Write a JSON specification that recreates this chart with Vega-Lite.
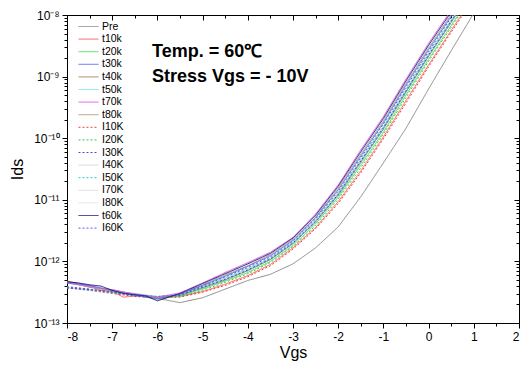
{
"$schema":"https://vega.github.io/schema/vega-lite/v6.json",
"width":452,"height":308,
"autosize":{"type":"none"},
"padding":{"left":67,"top":15,"right":5,"bottom":45},
"background":"white",
"config":{"view":{"stroke":null},"font":"Liberation Sans","axis":{"domainColor":"black","domainWidth":1,"tickColor":"black","tickWidth":1,"labelColor":"black","titleColor":"black","labelFont":"Liberation Sans","titleFont":"Liberation Sans","grid":false}},
"datasets":{
"curves":[
{"s":"Pre","v":-8,"i":4.47e-13},{"s":"Pre","v":-7.5,"i":3.89e-13},{"s":"Pre","v":-7.25,"i":3.55e-13},{"s":"Pre","v":-7,"i":3.31e-13},{"s":"Pre","v":-6.5,"i":2.82e-13},{"s":"Pre","v":-6.25,"i":2.63e-13},{"s":"Pre","v":-6,"i":2.51e-13},{"s":"Pre","v":-5.5,"i":2.14e-13},{"s":"Pre","v":-5,"i":2.57e-13},{"s":"Pre","v":-4.5,"i":3.55e-13},{"s":"Pre","v":-4,"i":4.90e-13},{"s":"Pre","v":-3.5,"i":6.17e-13},{"s":"Pre","v":-3,"i":9.12e-13},{"s":"Pre","v":-2.5,"i":1.66e-12},{"s":"Pre","v":-2,"i":3.63e-12},{"s":"Pre","v":-1.5,"i":1.12e-11},{"s":"Pre","v":-1,"i":3.98e-11},{"s":"Pre","v":-0.5,"i":1.45e-10},{"s":"Pre","v":0,"i":6.31e-10},{"s":"Pre","v":0.5,"i":2.63e-9},{"s":"Pre","v":1,"i":1.07e-8},
{"s":"I40K","v":-8,"i":3.80e-13},{"s":"I40K","v":-7.5,"i":3.47e-13},{"s":"I40K","v":-7,"i":3.16e-13},{"s":"I40K","v":-6.5,"i":2.75e-13},{"s":"I40K","v":-6,"i":2.63e-13},{"s":"I40K","v":-5.5,"i":2.88e-13},{"s":"I40K","v":-5,"i":3.89e-13},{"s":"I40K","v":-4.5,"i":5.37e-13},{"s":"I40K","v":-4,"i":7.59e-13},{"s":"I40K","v":-3.5,"i":1.12e-12},{"s":"I40K","v":-3,"i":2.04e-12},{"s":"I40K","v":-2.5,"i":4.68e-12},{"s":"I40K","v":-2,"i":1.29e-11},{"s":"I40K","v":-1.5,"i":4.47e-11},{"s":"I40K","v":-1,"i":1.55e-10},{"s":"I40K","v":-0.5,"i":6.17e-10},{"s":"I40K","v":0,"i":2.40e-9},{"s":"I40K","v":0.5,"i":8.32e-9},{"s":"I40K","v":1,"i":2.95e-8},
{"s":"I70K","v":-8,"i":3.72e-13},{"s":"I70K","v":-7.5,"i":3.47e-13},{"s":"I70K","v":-7,"i":3.24e-13},{"s":"I70K","v":-6.5,"i":2.75e-13},{"s":"I70K","v":-6,"i":2.63e-13},{"s":"I70K","v":-5.5,"i":2.82e-13},{"s":"I70K","v":-5,"i":3.80e-13},{"s":"I70K","v":-4.5,"i":5.13e-13},{"s":"I70K","v":-4,"i":7.24e-13},{"s":"I70K","v":-3.5,"i":1.10e-12},{"s":"I70K","v":-3,"i":2.00e-12},{"s":"I70K","v":-2.5,"i":4.47e-12},{"s":"I70K","v":-2,"i":1.23e-11},{"s":"I70K","v":-1.5,"i":4.27e-11},{"s":"I70K","v":-1,"i":1.48e-10},{"s":"I70K","v":-0.5,"i":5.89e-10},{"s":"I70K","v":0,"i":2.24e-9},{"s":"I70K","v":0.5,"i":7.94e-9},{"s":"I70K","v":1,"i":2.82e-8},
{"s":"I80K","v":-8,"i":3.80e-13},{"s":"I80K","v":-7.5,"i":3.39e-13},{"s":"I80K","v":-7,"i":3.16e-13},{"s":"I80K","v":-6.5,"i":2.82e-13},{"s":"I80K","v":-6,"i":2.69e-13},{"s":"I80K","v":-5.5,"i":2.82e-13},{"s":"I80K","v":-5,"i":3.72e-13},{"s":"I80K","v":-4.5,"i":5.01e-13},{"s":"I80K","v":-4,"i":7.08e-13},{"s":"I80K","v":-3.5,"i":1.07e-12},{"s":"I80K","v":-3,"i":1.95e-12},{"s":"I80K","v":-2.5,"i":4.37e-12},{"s":"I80K","v":-2,"i":1.17e-11},{"s":"I80K","v":-1.5,"i":3.98e-11},{"s":"I80K","v":-1,"i":1.41e-10},{"s":"I80K","v":-0.5,"i":5.50e-10},{"s":"I80K","v":0,"i":2.14e-9},{"s":"I80K","v":0.5,"i":7.59e-9},{"s":"I80K","v":1,"i":2.69e-8},
{"s":"t10k","v":-8,"i":4.68e-13},{"s":"t10k","v":-7.5,"i":3.89e-13},{"s":"t10k","v":-7.25,"i":3.39e-13},{"s":"t10k","v":-7,"i":3.24e-13},{"s":"t10k","v":-6.75,"i":2.63e-13},{"s":"t10k","v":-6.5,"i":2.75e-13},{"s":"t10k","v":-6.25,"i":2.75e-13},{"s":"t10k","v":-6,"i":2.63e-13},{"s":"t10k","v":-5.5,"i":2.69e-13},{"s":"t10k","v":-5,"i":3.24e-13},{"s":"t10k","v":-4.5,"i":4.27e-13},{"s":"t10k","v":-4,"i":5.89e-13},{"s":"t10k","v":-3.5,"i":8.91e-13},{"s":"t10k","v":-3,"i":1.66e-12},{"s":"t10k","v":-2.5,"i":3.55e-12},{"s":"t10k","v":-2,"i":9.33e-12},{"s":"t10k","v":-1.5,"i":2.95e-11},{"s":"t10k","v":-1,"i":1.05e-10},{"s":"t10k","v":-0.5,"i":4.07e-10},{"s":"t10k","v":0,"i":1.55e-9},{"s":"t10k","v":0.5,"i":5.62e-9},{"s":"t10k","v":1,"i":2.00e-8},
{"s":"I10K","v":-8,"i":3.72e-13},{"s":"I10K","v":-7.5,"i":3.39e-13},{"s":"I10K","v":-7,"i":3.02e-13},{"s":"I10K","v":-6.5,"i":2.69e-13},{"s":"I10K","v":-6,"i":2.57e-13},{"s":"I10K","v":-5.5,"i":2.63e-13},{"s":"I10K","v":-5,"i":3.16e-13},{"s":"I10K","v":-4.5,"i":4.07e-13},{"s":"I10K","v":-4,"i":5.62e-13},{"s":"I10K","v":-3.5,"i":8.51e-13},{"s":"I10K","v":-3,"i":1.58e-12},{"s":"I10K","v":-2.5,"i":3.39e-12},{"s":"I10K","v":-2,"i":8.71e-12},{"s":"I10K","v":-1.5,"i":2.75e-11},{"s":"I10K","v":-1,"i":9.77e-11},{"s":"I10K","v":-0.5,"i":3.72e-10},{"s":"I10K","v":0,"i":1.45e-9},{"s":"I10K","v":0.5,"i":5.25e-9},{"s":"I10K","v":1,"i":1.86e-8},
{"s":"t20k","v":-8,"i":4.57e-13},{"s":"t20k","v":-7.5,"i":3.98e-13},{"s":"t20k","v":-7,"i":3.31e-13},{"s":"t20k","v":-6.5,"i":2.82e-13},{"s":"t20k","v":-6,"i":2.45e-13},{"s":"t20k","v":-5.5,"i":2.75e-13},{"s":"t20k","v":-5,"i":3.55e-13},{"s":"t20k","v":-4.5,"i":4.79e-13},{"s":"t20k","v":-4,"i":6.61e-13},{"s":"t20k","v":-3.5,"i":1.00e-12},{"s":"t20k","v":-3,"i":1.82e-12},{"s":"t20k","v":-2.5,"i":4.07e-12},{"s":"t20k","v":-2,"i":1.10e-11},{"s":"t20k","v":-1.5,"i":3.63e-11},{"s":"t20k","v":-1,"i":1.26e-10},{"s":"t20k","v":-0.5,"i":5.01e-10},{"s":"t20k","v":0,"i":1.91e-9},{"s":"t20k","v":0.5,"i":6.76e-9},{"s":"t20k","v":1,"i":2.40e-8},
{"s":"I20K","v":-8,"i":3.80e-13},{"s":"I20K","v":-7.5,"i":3.55e-13},{"s":"I20K","v":-7,"i":3.09e-13},{"s":"I20K","v":-6.5,"i":2.82e-13},{"s":"I20K","v":-6,"i":2.57e-13},{"s":"I20K","v":-5.5,"i":2.69e-13},{"s":"I20K","v":-5,"i":3.39e-13},{"s":"I20K","v":-4.5,"i":4.57e-13},{"s":"I20K","v":-4,"i":6.31e-13},{"s":"I20K","v":-3.5,"i":9.55e-13},{"s":"I20K","v":-3,"i":1.74e-12},{"s":"I20K","v":-2.5,"i":3.80e-12},{"s":"I20K","v":-2,"i":1.02e-11},{"s":"I20K","v":-1.5,"i":3.31e-11},{"s":"I20K","v":-1,"i":1.17e-10},{"s":"I20K","v":-0.5,"i":4.57e-10},{"s":"I20K","v":0,"i":1.78e-9},{"s":"I20K","v":0.5,"i":6.31e-9},{"s":"I20K","v":1,"i":2.24e-8},
{"s":"t40k","v":-8,"i":4.68e-13},{"s":"t40k","v":-7.5,"i":3.80e-13},{"s":"t40k","v":-7,"i":3.47e-13},{"s":"t40k","v":-6.5,"i":2.88e-13},{"s":"t40k","v":-6,"i":2.57e-13},{"s":"t40k","v":-5.5,"i":2.82e-13},{"s":"t40k","v":-5,"i":3.72e-13},{"s":"t40k","v":-4.5,"i":5.01e-13},{"s":"t40k","v":-4,"i":7.08e-13},{"s":"t40k","v":-3.5,"i":1.07e-12},{"s":"t40k","v":-3,"i":1.95e-12},{"s":"t40k","v":-2.5,"i":4.37e-12},{"s":"t40k","v":-2,"i":1.20e-11},{"s":"t40k","v":-1.5,"i":4.07e-11},{"s":"t40k","v":-1,"i":1.41e-10},{"s":"t40k","v":-0.5,"i":5.62e-10},{"s":"t40k","v":0,"i":2.14e-9},{"s":"t40k","v":0.5,"i":7.59e-9},{"s":"t40k","v":1,"i":2.69e-8},
{"s":"I50K","v":-8,"i":3.80e-13},{"s":"I50K","v":-7.5,"i":3.39e-13},{"s":"I50K","v":-7,"i":3.16e-13},{"s":"I50K","v":-6.5,"i":2.82e-13},{"s":"I50K","v":-6,"i":2.69e-13},{"s":"I50K","v":-5.5,"i":2.82e-13},{"s":"I50K","v":-5,"i":3.72e-13},{"s":"I50K","v":-4.5,"i":5.01e-13},{"s":"I50K","v":-4,"i":7.08e-13},{"s":"I50K","v":-3.5,"i":1.07e-12},{"s":"I50K","v":-3,"i":1.95e-12},{"s":"I50K","v":-2.5,"i":4.37e-12},{"s":"I50K","v":-2,"i":1.17e-11},{"s":"I50K","v":-1.5,"i":3.98e-11},{"s":"I50K","v":-1,"i":1.41e-10},{"s":"I50K","v":-0.5,"i":5.50e-10},{"s":"I50K","v":0,"i":2.14e-9},{"s":"I50K","v":0.5,"i":7.59e-9},{"s":"I50K","v":1,"i":2.69e-8},
{"s":"t50k","v":-8,"i":4.57e-13},{"s":"t50k","v":-7.5,"i":3.89e-13},{"s":"t50k","v":-7,"i":3.31e-13},{"s":"t50k","v":-6.5,"i":3.02e-13},{"s":"t50k","v":-6,"i":2.69e-13},{"s":"t50k","v":-5.5,"i":2.88e-13},{"s":"t50k","v":-5,"i":3.89e-13},{"s":"t50k","v":-4.5,"i":5.37e-13},{"s":"t50k","v":-4,"i":7.59e-13},{"s":"t50k","v":-3.5,"i":1.12e-12},{"s":"t50k","v":-3,"i":2.04e-12},{"s":"t50k","v":-2.5,"i":4.68e-12},{"s":"t50k","v":-2,"i":1.29e-11},{"s":"t50k","v":-1.5,"i":4.47e-11},{"s":"t50k","v":-1,"i":1.55e-10},{"s":"t50k","v":-0.5,"i":6.17e-10},{"s":"t50k","v":0,"i":2.40e-9},{"s":"t50k","v":0.5,"i":8.32e-9},{"s":"t50k","v":1,"i":2.95e-8},
{"s":"I30K","v":-8,"i":3.72e-13},{"s":"I30K","v":-7.5,"i":3.47e-13},{"s":"I30K","v":-7,"i":3.24e-13},{"s":"I30K","v":-6.5,"i":2.75e-13},{"s":"I30K","v":-6,"i":2.63e-13},{"s":"I30K","v":-5.5,"i":2.82e-13},{"s":"I30K","v":-5,"i":3.80e-13},{"s":"I30K","v":-4.5,"i":5.13e-13},{"s":"I30K","v":-4,"i":7.24e-13},{"s":"I30K","v":-3.5,"i":1.10e-12},{"s":"I30K","v":-3,"i":2.00e-12},{"s":"I30K","v":-2.5,"i":4.47e-12},{"s":"I30K","v":-2,"i":1.23e-11},{"s":"I30K","v":-1.5,"i":4.27e-11},{"s":"I30K","v":-1,"i":1.48e-10},{"s":"I30K","v":-0.5,"i":5.89e-10},{"s":"I30K","v":0,"i":2.24e-9},{"s":"I30K","v":0.5,"i":7.94e-9},{"s":"I30K","v":1,"i":2.82e-8},
{"s":"t80k","v":-8,"i":4.79e-13},{"s":"t80k","v":-7.5,"i":3.98e-13},{"s":"t80k","v":-7,"i":3.31e-13},{"s":"t80k","v":-6.5,"i":2.95e-13},{"s":"t80k","v":-6,"i":2.57e-13},{"s":"t80k","v":-5.5,"i":2.95e-13},{"s":"t80k","v":-5,"i":4.17e-13},{"s":"t80k","v":-4.5,"i":6.03e-13},{"s":"t80k","v":-4,"i":8.51e-13},{"s":"t80k","v":-3.5,"i":1.29e-12},{"s":"t80k","v":-3,"i":2.29e-12},{"s":"t80k","v":-2.5,"i":5.25e-12},{"s":"t80k","v":-2,"i":1.55e-11},{"s":"t80k","v":-1.5,"i":5.50e-11},{"s":"t80k","v":-1,"i":1.91e-10},{"s":"t80k","v":-0.5,"i":7.76e-10},{"s":"t80k","v":0,"i":2.95e-9},{"s":"t80k","v":0.5,"i":1.02e-8},{"s":"t80k","v":1,"i":3.63e-8},
{"s":"I60K","v":-8,"i":3.89e-13},{"s":"I60K","v":-7.5,"i":3.55e-13},{"s":"I60K","v":-7,"i":3.09e-13},{"s":"I60K","v":-6.5,"i":2.88e-13},{"s":"I60K","v":-6,"i":2.69e-13},{"s":"I60K","v":-5.5,"i":2.88e-13},{"s":"I60K","v":-5,"i":3.98e-13},{"s":"I60K","v":-4.5,"i":5.62e-13},{"s":"I60K","v":-4,"i":7.94e-13},{"s":"I60K","v":-3.5,"i":1.18e-12},{"s":"I60K","v":-3,"i":2.14e-12},{"s":"I60K","v":-2.5,"i":4.90e-12},{"s":"I60K","v":-2,"i":1.38e-11},{"s":"I60K","v":-1.5,"i":4.79e-11},{"s":"I60K","v":-1,"i":1.70e-10},{"s":"I60K","v":-0.5,"i":6.76e-10},{"s":"I60K","v":0,"i":2.57e-9},{"s":"I60K","v":0.5,"i":9.12e-9},{"s":"I60K","v":1,"i":3.24e-8},
{"s":"t30k","v":-8,"i":4.47e-13},{"s":"t30k","v":-7.5,"i":4.07e-13},{"s":"t30k","v":-7,"i":3.39e-13},{"s":"t30k","v":-6.5,"i":2.82e-13},{"s":"t30k","v":-6,"i":2.45e-13},{"s":"t30k","v":-5.5,"i":2.95e-13},{"s":"t30k","v":-5,"i":4.07e-13},{"s":"t30k","v":-4.5,"i":5.75e-13},{"s":"t30k","v":-4,"i":8.32e-13},{"s":"t30k","v":-3.5,"i":1.23e-12},{"s":"t30k","v":-3,"i":2.19e-12},{"s":"t30k","v":-2.5,"i":5.13e-12},{"s":"t30k","v":-2,"i":1.45e-11},{"s":"t30k","v":-1.5,"i":5.13e-11},{"s":"t30k","v":-1,"i":1.78e-10},{"s":"t30k","v":-0.5,"i":7.24e-10},{"s":"t30k","v":0,"i":2.75e-9},{"s":"t30k","v":0.5,"i":9.55e-9},{"s":"t30k","v":1,"i":3.39e-8},
{"s":"t70k","v":-8,"i":4.57e-13},{"s":"t70k","v":-7.5,"i":3.89e-13},{"s":"t70k","v":-7,"i":3.47e-13},{"s":"t70k","v":-6.5,"i":2.95e-13},{"s":"t70k","v":-6,"i":2.63e-13},{"s":"t70k","v":-5.5,"i":3.09e-13},{"s":"t70k","v":-5,"i":4.47e-13},{"s":"t70k","v":-4.5,"i":6.61e-13},{"s":"t70k","v":-4,"i":9.55e-13},{"s":"t70k","v":-3.5,"i":1.41e-12},{"s":"t70k","v":-3,"i":2.45e-12},{"s":"t70k","v":-2.5,"i":5.89e-12},{"s":"t70k","v":-2,"i":1.74e-11},{"s":"t70k","v":-1.5,"i":6.46e-11},{"s":"t70k","v":-1,"i":2.24e-10},{"s":"t70k","v":-0.5,"i":9.12e-10},{"s":"t70k","v":0,"i":3.47e-9},{"s":"t70k","v":0.5,"i":1.20e-8},{"s":"t70k","v":1,"i":4.27e-8},
{"s":"t60k","v":-8,"i":4.68e-13},{"s":"t60k","v":-7.75,"i":4.47e-13},{"s":"t60k","v":-7.5,"i":4.17e-13},{"s":"t60k","v":-7.25,"i":3.98e-13},{"s":"t60k","v":-7,"i":3.39e-13},{"s":"t60k","v":-6.75,"i":3.02e-13},{"s":"t60k","v":-6.5,"i":2.88e-13},{"s":"t60k","v":-6.25,"i":2.75e-13},{"s":"t60k","v":-6,"i":2.29e-13},{"s":"t60k","v":-5.5,"i":3.02e-13},{"s":"t60k","v":-5,"i":4.37e-13},{"s":"t60k","v":-4.5,"i":6.31e-13},{"s":"t60k","v":-4,"i":9.12e-13},{"s":"t60k","v":-3.5,"i":1.35e-12},{"s":"t60k","v":-3,"i":2.40e-12},{"s":"t60k","v":-2.5,"i":5.62e-12},{"s":"t60k","v":-2,"i":1.66e-11},{"s":"t60k","v":-1.5,"i":6.03e-11},{"s":"t60k","v":-1,"i":2.09e-10},{"s":"t60k","v":-0.5,"i":8.51e-10},{"s":"t60k","v":0,"i":3.24e-9},{"s":"t60k","v":0.5,"i":1.12e-8},{"s":"t60k","v":1,"i":3.98e-8}
],
"notes":[
{"v":-6.12,"i":2.09e-9,"t":"Temp. = 60℃"},
{"v":-6.12,"i":8.17e-10,"t":"Stress Vgs = - 10V"}
]
},
"layer":[
{"data":{"name":"curves"},
"mark":{"type":"line","clip":true,"strokeWidth":1},
"encoding":{
"x":{"field":"v","type":"quantitative","scale":{"domain":[-8,2],"nice":false,"zero":false},
"axis":{"orient":"bottom","title":"Vgs","values":[-8,-7.5,-7,-6.5,-6,-5.5,-5,-4.5,-4,-3.5,-3,-2.5,-2,-1.5,-1,-0.5,0,0.5,1,1.5,2],
"labelExpr":"datum.value % 1 === 0 ? '' + datum.value : ''",
"tickSize":{"condition":{"test":"datum.value % 1 === 0","value":5},"value":3},
"labelFontSize":12,"labelPadding":3,"titleFontSize":16,"titleFontWeight":"normal","titlePadding":2}},
"y":{"field":"i","type":"quantitative","scale":{"type":"log","domain":[1e-13,1e-8],"nice":false},
"axis":{"orient":"left","title":"Ids","values":[1e-13,2e-13,3e-13,4e-13,5e-13,6e-13,7e-13,8e-13,9e-13,1e-12,2e-12,3e-12,4e-12,5e-12,6e-12,7e-12,8e-12,9e-12,1e-11,2e-11,3e-11,4e-11,5e-11,6e-11,7e-11,8e-11,9e-11,1e-10,2e-10,3e-10,4e-10,5e-10,6e-10,7e-10,8e-10,9e-10,1e-9,2e-9,3e-9,4e-9,5e-9,6e-9,7e-9,8e-9,9e-9,1e-8],
"labelExpr":"abs(log(datum.value)/LN10 - round(log(datum.value)/LN10)) < 1e-6 ? '10' + ['⁻¹³','⁻¹²','⁻¹¹','⁻¹⁰','⁻⁹','⁻⁸'][round(log(datum.value)/LN10) + 13] : ''",
"tickSize":{"condition":{"test":"abs(log(datum.value)/LN10 - round(log(datum.value)/LN10)) < 1e-6","value":5},"value":3},
"labelFontSize":12,"labelPadding":3,"titleFontSize":16,"titleFontWeight":"normal","titlePadding":8}},
"color":{"field":"s","type":"nominal",
"scale":{"domain":["Pre","t10k","t20k","t30k","t40k","t50k","t70k","t80k","I10K","I20K","I30K","I40K","I50K","I70K","I80K","t60k","I60K"],
"range":["#8a8a8a","#ff5c5c","#4ddd4d","#5566ee","#b07a6a","#77e6e6","#e655e6","#a3a06a","#f04040","#33cc55","#4a4ad0","#d8d8d8","#33cccc","#dcdcdc","#e2e2e2","#1a1a80","#5a5ae6"]},
"legend":{"orient":"none","legendX":16,"legendY":6,"title":null,"symbolType":"M-2,0H2","symbolSize":100,"symbolStrokeWidth":1,"labelFontSize":10.5,"labelFont":"Liberation Sans","labelColor":"black","rowPadding":1.6,"labelOffset":8,"padding":0,"offset":0}},
"strokeDash":{"field":"s","type":"nominal",
"scale":{"domain":["Pre","t10k","t20k","t30k","t40k","t50k","t70k","t80k","I10K","I20K","I30K","I40K","I50K","I70K","I80K","t60k","I60K"],
"range":[[1,0],[1,0],[1,0],[1,0],[1,0],[1,0],[1,0],[1,0],[2,2],[2,2],[2,2],[1,0],[2,2],[1,0],[1,0],[1,0],[2,2]]},
"legend":{"orient":"none","legendX":16,"legendY":6,"title":null,"symbolType":"M-2,0H2","symbolSize":100,"symbolStrokeWidth":1,"labelFontSize":10.5,"labelFont":"Liberation Sans","labelColor":"black","rowPadding":1.6,"labelOffset":8,"padding":0,"offset":0}},
"strokeWidth":{"condition":{"test":"datum.s === 't60k'","value":1.8},"value":1}
}},
{"data":{"name":"notes"},
"mark":{"type":"text","align":"left","baseline":"alphabetic","fontSize":18,"fontWeight":"bold","font":"Liberation Sans","color":"black"},
"encoding":{
"x":{"field":"v","type":"quantitative","axis":{"orient":"top","title":null,"labels":false,"values":[-8,-7.5,-7,-6.5,-6,-5.5,-5,-4.5,-4,-3.5,-3,-2.5,-2,-1.5,-1,-0.5,0,0.5,1,1.5,2],"tickSize":{"condition":{"test":"datum.value % 1 === 0","value":-5},"value":-3}}},
"y":{"field":"i","type":"quantitative","axis":{"orient":"right","title":null,"labels":false,"values":[1e-13,2e-13,3e-13,4e-13,5e-13,6e-13,7e-13,8e-13,9e-13,1e-12,2e-12,3e-12,4e-12,5e-12,6e-12,7e-12,8e-12,9e-12,1e-11,2e-11,3e-11,4e-11,5e-11,6e-11,7e-11,8e-11,9e-11,1e-10,2e-10,3e-10,4e-10,5e-10,6e-10,7e-10,8e-10,9e-10,1e-9,2e-9,3e-9,4e-9,5e-9,6e-9,7e-9,8e-9,9e-9,1e-8],"tickSize":{"condition":{"test":"abs(log(datum.value)/LN10 - round(log(datum.value)/LN10)) < 1e-6","value":-5},"value":-3}}},
"text":{"field":"t"}
}}
],
"resolve":{"axis":{"x":"independent","y":"independent"}}
}
